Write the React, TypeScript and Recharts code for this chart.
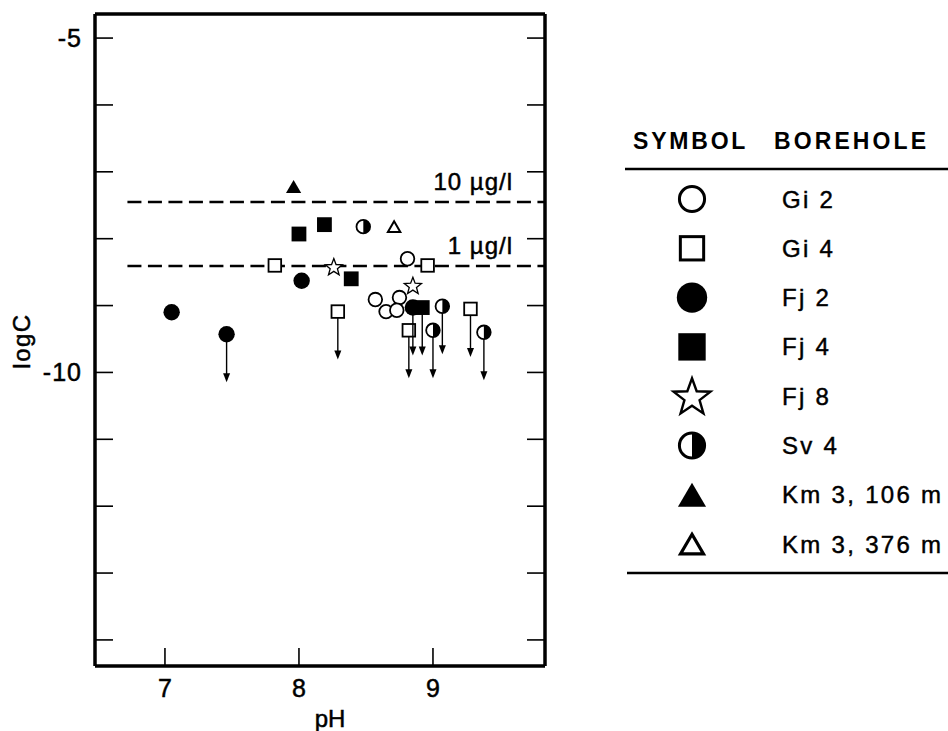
import React from "react";
import { ReferenceLine, Scatter, ScatterChart, XAxis, YAxis } from "recharts";

const FONT = "'Liberation Sans', Arial, Helvetica, sans-serif";

type Pt = { ph: number; logC: number; below?: boolean };
type Kind = "circle" | "square" | "dot" | "block" | "star" | "half" | "tri" | "openTri";

// values (pH, log C); below = drawn with a "less than" arrow
const gi2: Pt[] = [
  { ph: 8.57, logC: -8.91 },
  { ph: 8.75, logC: -8.88 },
  { ph: 8.65, logC: -9.09 },
  { ph: 8.73, logC: -9.07 },
  { ph: 8.81, logC: -8.3 },
];
const gi4: Pt[] = [
  { ph: 7.82, logC: -8.4 },
  { ph: 8.29, logC: -9.09, below: true },
  { ph: 8.82, logC: -9.37, below: true },
  { ph: 8.96, logC: -8.4 },
  { ph: 9.28, logC: -9.05, below: true },
];
const fj2: Pt[] = [
  { ph: 7.05, logC: -9.1 },
  { ph: 7.46, logC: -9.43, below: true },
  { ph: 8.02, logC: -8.63 },
  { ph: 8.85, logC: -9.03, below: true },
];
const fj4: Pt[] = [
  { ph: 8.0, logC: -7.93 },
  { ph: 8.19, logC: -7.79 },
  { ph: 8.39, logC: -8.6 },
  { ph: 8.92, logC: -9.03, below: true },
];
const fj8: Pt[] = [
  { ph: 8.26, logC: -8.42 },
  { ph: 8.85, logC: -8.7 },
];
const sv4: Pt[] = [
  { ph: 8.48, logC: -7.82 },
  { ph: 9.07, logC: -9.01, below: true },
  { ph: 9.0, logC: -9.37, below: true },
  { ph: 9.38, logC: -9.4, below: true },
];
const km3Shallow: Pt[] = [{ ph: 7.96, logC: -7.22 }];
const km3Deep: Pt[] = [{ ph: 8.71, logC: -7.82 }];

const series: { name: string; kind: Kind; data: Pt[] }[] = [
  { name: "Gi 2", kind: "circle", data: gi2 },
  { name: "Gi 4", kind: "square", data: gi4 },
  { name: "Fj 2", kind: "dot", data: fj2 },
  { name: "Fj 4", kind: "block", data: fj4 },
  { name: "Fj 8", kind: "star", data: fj8 },
  { name: "Sv 4", kind: "half", data: sv4 },
  { name: "Km 3, 106 m", kind: "tri", data: km3Shallow },
  { name: "Km 3, 376 m", kind: "openTri", data: km3Deep },
];

const phTicks = [7, 8, 9];
const logTicks = [-14, -13, -12, -11, -10, -9, -8, -7, -6, -5];
const labeledLogTicks = [-5, -10];
const phDomain: [number, number] = [6.478, 9.836];
const logDomain: [number, number] = [-14.39, -4.64];
const limits = [
  { logC: -7.45, label: "10 µg/l" },
  { logC: -8.41, label: "1 µg/l" },
];
const limitStartPh = 6.72;

function starPath(cx: number, cy: number, ro: number, ri: number) {
  let d = "";
  for (let i = 0; i < 10; i++) {
    const r = i % 2 === 0 ? ro : ri;
    const a = -Math.PI / 2 + (i * Math.PI) / 5;
    d += `${i === 0 ? "M" : "L"}${cx + r * Math.cos(a)},${cy + r * Math.sin(a)}`;
  }
  return d + "Z";
}

function Marker({ kind, cx, cy, k }: { kind: Kind; cx: number; cy: number; k: number }) {
  const sw = k > 1 ? 3 : 1.8;
  switch (kind) {
    case "circle":
      return <circle cx={cx} cy={cy} r={6.8 * k} fill="#fff" stroke="#000" strokeWidth={sw} />;
    case "dot":
      return <circle cx={cx} cy={cy} r={8.2 * k} fill="#000" />;
    case "square": {
      const h = 6.3 * k;
      return <rect x={cx - h} y={cy - h} width={2 * h} height={2 * h} fill="#fff" stroke="#000" strokeWidth={sw} />;
    }
    case "block": {
      const h = 7.4 * k;
      return <rect x={cx - h} y={cy - h} width={2 * h} height={2 * h} fill="#000" />;
    }
    case "star":
      return (
        <path
          d={starPath(cx, cy + 0.8 * k, (k > 1 ? 10.5 : 9) * k, (k > 1 ? 4.3 : 3.8) * k)}
          fill="#fff"
          stroke="#000"
          strokeWidth={k > 1 ? 2.4 : 1.3}
          strokeLinejoin="miter"
        />
      );
    case "half": {
      const r = 6.8 * k;
      return (
        <g>
          <circle cx={cx} cy={cy} r={r} fill="#fff" stroke="#000" strokeWidth={sw} />
          <path d={`M${cx},${cy - r} A${r},${r} 0 0 1 ${cx},${cy + r} Z`} fill="#000" />
        </g>
      );
    }
    case "tri": {
      const w = 7.6 * k;
      const h = 6.5 * k;
      return <path d={`M${cx},${cy - h} L${cx + w},${cy + h} L${cx - w},${cy + h} Z`} fill="#000" />;
    }
    case "openTri": {
      const w = 6.2 * k;
      const h = 5.3 * k;
      return (
        <path d={`M${cx},${cy - h} L${cx + w},${cy + h} L${cx - w},${cy + h} Z`} fill="#fff" stroke="#000" strokeWidth={k > 1 ? 3.2 : 2} strokeLinejoin="miter" />
      );
    }
  }
  return null;
}

function makeShape(kind: Kind) {
  return (props: any) => {
    const { cx, cy, payload } = props;
    if (cx == null || cy == null) return <g />;
    return (
      <g>
        {payload?.below ? (
          <g>
            <line x1={cx} y1={cy} x2={cx} y2={cy + 41} stroke="#000" strokeWidth={1.4} />
            <path d={`M${cx - 3.5},${cy + 39} L${cx + 3.5},${cy + 39} L${cx},${cy + 48} Z`} fill="#000" />
          </g>
        ) : null}
        <Marker kind={kind} cx={cx} cy={cy} k={1} />
      </g>
    );
  };
}

const tickText = { fontFamily: FONT, fontSize: 25, fill: "#000", stroke: "#000", strokeWidth: 0.5 };

function BottomTick(props: any) {
  const { x, y, payload } = props;
  return (
    <g>
      <line x1={x} y1={y} x2={x} y2={y - 18} stroke="#000" strokeWidth={1.6} />
      <text x={x} y={y + 31} textAnchor="middle" {...tickText}>
        {payload.value}
      </text>
    </g>
  );
}

function TopTick(props: any) {
  const { x, y } = props;
  return <line x1={x} y1={y} x2={x} y2={y + 18} stroke="#000" strokeWidth={1.6} />;
}

function LeftTick(props: any) {
  const { x, y, payload } = props;
  const show = labeledLogTicks.includes(payload.value);
  return (
    <g>
      <line x1={x} y1={y} x2={x + 18} y2={y} stroke="#000" strokeWidth={1.6} />
      {show ? (
        <text x={x - 13} y={y + 9} textAnchor="end" letterSpacing={1} {...tickText}>
          {payload.value}
        </text>
      ) : null}
    </g>
  );
}

function RightTick(props: any) {
  const { x, y } = props;
  return <line x1={x - 18} y1={y} x2={x} y2={y} stroke="#000" strokeWidth={1.6} />;
}

function LimitLabel(props: any) {
  const vb = props.viewBox ?? {};
  const right = (vb.x ?? 0) + (vb.width ?? 0);
  const y = vb.y ?? 0;
  return (
    <text x={right - 32} y={y - 12} textAnchor="end" letterSpacing={1} {...tickText} fontSize={24}>
      {props.text}
    </text>
  );
}

function Legend() {
  const top = 199;
  const step = 49.3;
  return (
    <svg width={948} height={731} style={{ position: "absolute", left: 0, top: 0 }}>
      <text x={633} y={149} fontFamily={FONT} fontSize={23} fontWeight={700} letterSpacing={2.8}>
        SYMBOL
      </text>
      <text x={774} y={149} fontFamily={FONT} fontSize={23} fontWeight={700} letterSpacing={3.1}>
        BOREHOLE
      </text>
      <line x1={625} y1={169} x2={948} y2={169} stroke="#000" strokeWidth={2.4} />
      {series.map((s, i) => {
        const cy = top + i * step;
        return (
          <g key={s.name}>
            <Marker kind={s.kind} cx={692} cy={cy} k={1.85} />
            <text x={782} y={cy + 8.5} fontFamily={FONT} fontSize={24} letterSpacing={2.3} stroke="#000" strokeWidth={0.45}>
              {s.name}
            </text>
          </g>
        );
      })}
      <line x1={627} y1={573} x2={948} y2={573} stroke="#000" strokeWidth={2.4} />
    </svg>
  );
}

export default function App() {
  return (
    <div style={{ position: "absolute", left: 0, top: 0, width: 948, height: 731, background: "#fff" }}>
      <ScatterChart width={948} height={731} margin={{ top: 10, left: 35, right: 399, bottom: 25 }}>
        <XAxis
          dataKey="ph"
          type="number"
          domain={phDomain}
          allowDataOverflow
          ticks={phTicks}
          interval={0}
          height={40}
          tickSize={0}
          tickMargin={0}
          tickLine={false}
          tick={<BottomTick />}
          axisLine={{ stroke: "#000", strokeWidth: 3.5 }}
          label={() => (
            <text x={330} y={727} textAnchor="middle" {...tickText} fontSize={24}>
              pH
            </text>
          )}
        />
        <XAxis
          xAxisId="top"
          orientation="top"
          type="number"
          domain={phDomain}
          allowDataOverflow
          ticks={phTicks}
          interval={0}
          height={4}
          tickSize={0}
          tickMargin={0}
          tickLine={false}
          tick={<TopTick />}
          axisLine={{ stroke: "#000", strokeWidth: 3.5 }}
        />
        <YAxis
          dataKey="logC"
          type="number"
          domain={logDomain}
          allowDataOverflow
          ticks={logTicks}
          interval={0}
          width={60}
          tickSize={0}
          tickMargin={0}
          tickLine={false}
          tick={<LeftTick />}
          axisLine={{ stroke: "#000", strokeWidth: 3.5 }}
          label={() => (
            <text x={30} y={341} textAnchor="middle" transform="rotate(-90 30 341)" letterSpacing={1.5} {...tickText} fontSize={24}>
              logC
            </text>
          )}
        />
        <YAxis
          yAxisId="right"
          orientation="right"
          type="number"
          domain={logDomain}
          allowDataOverflow
          ticks={logTicks}
          interval={0}
          width={4}
          tickSize={0}
          tickMargin={0}
          tickLine={false}
          tick={<RightTick />}
          axisLine={{ stroke: "#000", strokeWidth: 3.5 }}
        />
        {limits.map((l) => (
          <ReferenceLine
            key={l.label}
            segment={[
              { x: limitStartPh, y: l.logC },
              { x: phDomain[1], y: l.logC },
            ]}
            stroke="#000"
            strokeWidth={2.5}
            strokeDasharray="14 6.5"
            label={(p: any) => <LimitLabel {...p} text={l.label} />}
          />
        ))}
        {series.map((s) => (
          <Scatter key={s.name} name={s.name} data={s.data} shape={makeShape(s.kind)} isAnimationActive={false} />
        ))}
      </ScatterChart>
      <Legend />
    </div>
  );
}
